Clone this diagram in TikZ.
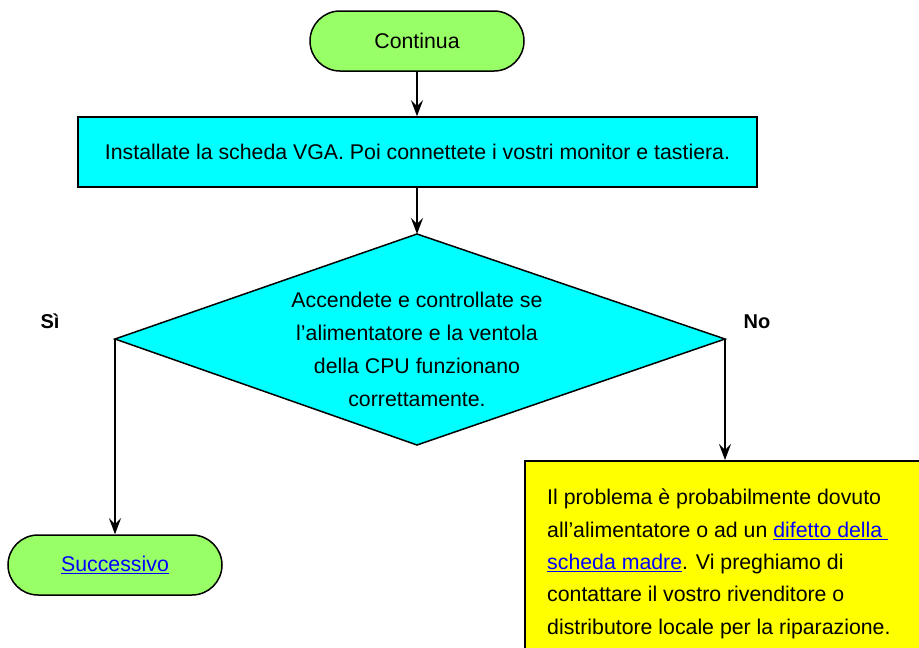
\documentclass[tikz,border=0pt]{standalone}
\usepackage{fontspec}
\setmainfont{Liberation Sans}
\usetikzlibrary{arrows.meta}
\definecolor{termgreen}{HTML}{99FF66}
\definecolor{procyan}{HTML}{00FFFF}
\definecolor{noteyellow}{HTML}{FFFF00}
\definecolor{linkblue}{HTML}{0000FF}
\begin{document}
\begin{tikzpicture}[x=1pt,y=-1pt,
  every node/.style={font=\fontsize{21.3}{32.3}\selectfont, inner sep=0pt},
  terminal/.style={draw, line width=1.5pt, fill=termgreen, rounded corners=30pt, minimum width=214pt, minimum height=60pt},
  process/.style={draw, line width=1.5pt, fill=procyan, minimum width=679pt, minimum height=70pt},
  decision/.style={draw, line width=1.5pt, fill=procyan},
  note/.style={draw, line width=1.5pt, fill=noteyellow, anchor=north west, minimum width=440pt, minimum height=230pt},
  flow/.style={line width=1.5pt, -{Stealth[length=16pt,width=12pt,inset=6pt]}},
  lbl/.style={font=\fontsize{20}{24}\selectfont\bfseries, anchor=base},
  link/.style={text=linkblue}]
\useasboundingbox (0,0) rectangle (919,648);
\clip (0,0) rectangle (919,648);

\node[terminal] (cont) at (417,41) {Continua};
\node[process] (inst) at (417.5,152) {Installate la scheda VGA. Poi connettete i vostri monitor e tastiera.};

\coordinate (dtop) at (417,234);
\coordinate (dright) at (725,339);
\coordinate (dbot) at (417,445);
\coordinate (dleft) at (115,339);
\draw[decision] (dtop) -- (dright) -- (dbot) -- (dleft) -- cycle;
\node[align=center, anchor=base, font=\fontsize{21.3}{33}\selectfont] (dtext) at (417,406) {Accendete e controllate se\\l’alimentatore e la ventola\\della CPU funzionano\\correttamente.};

\node[lbl] (si) at (50,328) {Sì};
\node[lbl] (no) at (757,328) {No};

\node[terminal] (succ) at (115,565) {\textcolor{linkblue}{\underline{Successivo}}};

\node[note] (notebox) at (524,460) {};
\node[align=left, anchor=base west] (notetext) at (547,634) {Il problema è probabilmente dovuto\\all’alimentatore o ad un \textcolor{linkblue}{\underline{difetto della\ }}\\\textcolor{linkblue}{\underline{scheda madre}}. Vi preghiamo di\\contattare il vostro rivenditore o\\distributore locale per la riparazione.};

\draw[flow] (cont.south) -- (cont.south |- inst.north);
\draw[flow] (inst.south -| dtop) -- (dtop);
\draw[flow] (dleft) -- (succ.north);
\draw[flow] (dright) -- (dright |- notebox.north);
\end{tikzpicture}
\end{document}
